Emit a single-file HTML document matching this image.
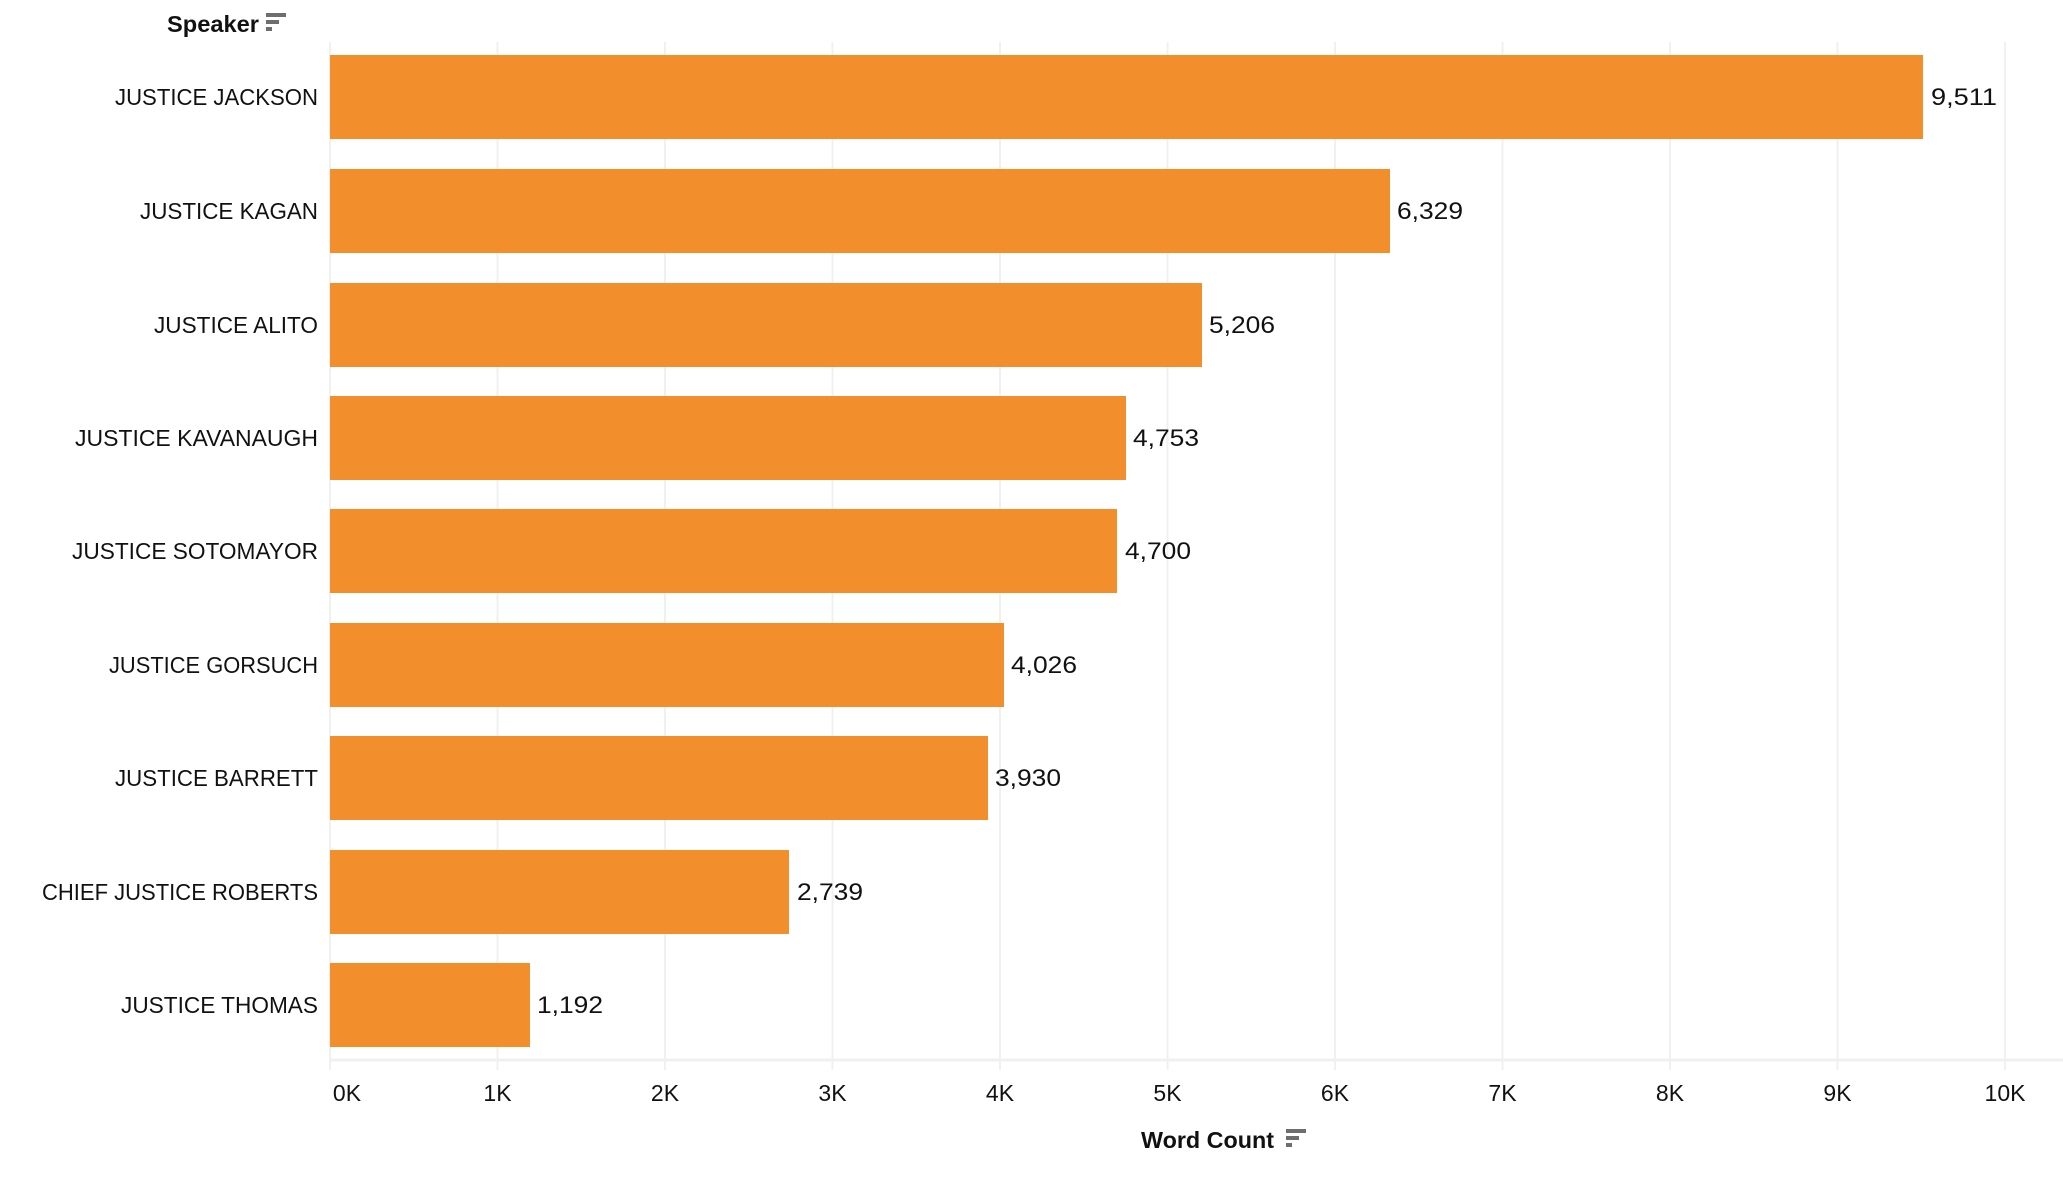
<!DOCTYPE html>
<html><head><meta charset="utf-8"><style>
html,body{margin:0;padding:0;background:#fff;}
svg{display:block;font-family:"Liberation Sans",sans-serif;}
</style></head><body>
<svg width="2063" height="1180" viewBox="0 0 2063 1180" xmlns="http://www.w3.org/2000/svg">
<g stroke="#f0f0f0" stroke-width="2">
<line x1="330" y1="42" x2="330" y2="1070"/>
<line x1="497.5" y1="42" x2="497.5" y2="1070"/>
<line x1="665" y1="42" x2="665" y2="1070"/>
<line x1="832.5" y1="42" x2="832.5" y2="1070"/>
<line x1="1000" y1="42" x2="1000" y2="1070"/>
<line x1="1167.5" y1="42" x2="1167.5" y2="1070"/>
<line x1="1335" y1="42" x2="1335" y2="1070"/>
<line x1="1502.5" y1="42" x2="1502.5" y2="1070"/>
<line x1="1670" y1="42" x2="1670" y2="1070"/>
<line x1="1837.5" y1="42" x2="1837.5" y2="1070"/>
<line x1="2005" y1="42" x2="2005" y2="1070"/>
<line x1="330" y1="1060" x2="2063" y2="1060" stroke-width="3"/>
</g>
<g fill="#f28e2b">
<rect x="330" y="55" width="1593" height="84"/>
<rect x="330" y="169" width="1060" height="84"/>
<rect x="330" y="283" width="872" height="84"/>
<rect x="330" y="396" width="796" height="84"/>
<rect x="330" y="509" width="787" height="84"/>
<rect x="330" y="623" width="674" height="84"/>
<rect x="330" y="736" width="658" height="84"/>
<rect x="330" y="850" width="459" height="84"/>
<rect x="330" y="963" width="200" height="84"/>
</g>
<g font-size="23" fill="#111" text-anchor="end">
<text x="318" y="105" textLength="203" lengthAdjust="spacingAndGlyphs">JUSTICE JACKSON</text>
<text x="318" y="219" textLength="178" lengthAdjust="spacingAndGlyphs">JUSTICE KAGAN</text>
<text x="318" y="333" textLength="164" lengthAdjust="spacingAndGlyphs">JUSTICE ALITO</text>
<text x="318" y="446" textLength="243" lengthAdjust="spacingAndGlyphs">JUSTICE KAVANAUGH</text>
<text x="318" y="559" textLength="246" lengthAdjust="spacingAndGlyphs">JUSTICE SOTOMAYOR</text>
<text x="318" y="673" textLength="209" lengthAdjust="spacingAndGlyphs">JUSTICE GORSUCH</text>
<text x="318" y="786" textLength="203" lengthAdjust="spacingAndGlyphs">JUSTICE BARRETT</text>
<text x="318" y="900" textLength="276" lengthAdjust="spacingAndGlyphs">CHIEF JUSTICE ROBERTS</text>
<text x="318" y="1013" textLength="197" lengthAdjust="spacingAndGlyphs">JUSTICE THOMAS</text>
</g>
<g font-size="24" fill="#111">
<text x="1931" y="105" textLength="66" lengthAdjust="spacingAndGlyphs">9,511</text>
<text x="1397" y="219" textLength="66" lengthAdjust="spacingAndGlyphs">6,329</text>
<text x="1209" y="333" textLength="66" lengthAdjust="spacingAndGlyphs">5,206</text>
<text x="1133" y="446" textLength="66" lengthAdjust="spacingAndGlyphs">4,753</text>
<text x="1125" y="559" textLength="66" lengthAdjust="spacingAndGlyphs">4,700</text>
<text x="1011" y="673" textLength="66" lengthAdjust="spacingAndGlyphs">4,026</text>
<text x="995" y="786" textLength="66" lengthAdjust="spacingAndGlyphs">3,930</text>
<text x="797" y="900" textLength="66" lengthAdjust="spacingAndGlyphs">2,739</text>
<text x="537" y="1013" textLength="66" lengthAdjust="spacingAndGlyphs">1,192</text>
</g>
<g font-size="23" fill="#111" text-anchor="middle">
<text x="347" y="1101">0K</text>
<text x="497.5" y="1101">1K</text>
<text x="665" y="1101">2K</text>
<text x="832.5" y="1101">3K</text>
<text x="1000" y="1101">4K</text>
<text x="1167.5" y="1101">5K</text>
<text x="1335" y="1101">6K</text>
<text x="1502.5" y="1101">7K</text>
<text x="1670" y="1101">8K</text>
<text x="1837.5" y="1101">9K</text>
<text x="2005" y="1101">10K</text>
</g>
<text x="167" y="32" font-size="23" font-weight="bold" fill="#111" textLength="92" lengthAdjust="spacingAndGlyphs">Speaker</text>
<g fill="#6e6e6e"><rect x="266" y="13" width="20" height="4"/><rect x="266" y="20" width="13" height="4"/><rect x="266" y="27" width="6" height="4"/></g>
<text x="1141" y="1148" font-size="23" font-weight="bold" fill="#111" textLength="133" lengthAdjust="spacingAndGlyphs">Word Count</text>
<g fill="#6e6e6e"><rect x="1286" y="1129" width="20" height="4"/><rect x="1286" y="1136" width="13" height="4"/><rect x="1286" y="1143" width="6" height="4"/></g>
</svg>
</body></html>
